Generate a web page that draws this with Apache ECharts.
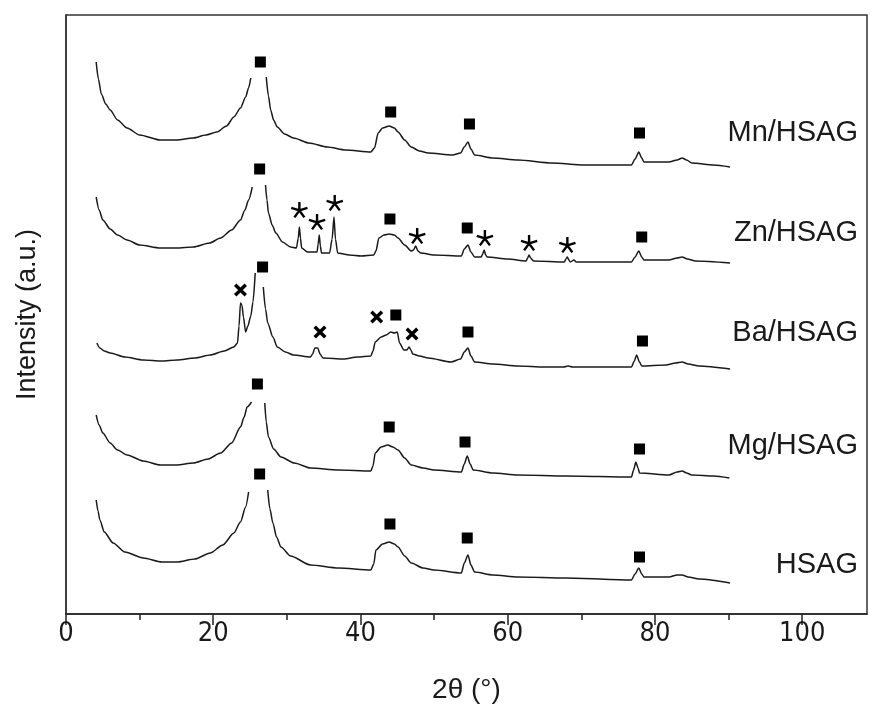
<!DOCTYPE html>
<html>
<head>
<meta charset="utf-8">
<script src="https://cdn.jsdelivr.net/npm/echarts@6/dist/echarts.min.js"></script>
<style>
html,body{margin:0;padding:0;background:#fff;}
#chart{width:870px;height:708px;}
</style>
</head>
<body>
<div id="chart"></div>
<script>
// ---- data (2θ in degrees, intensity in a.u. including vertical stacking offset) ----
const xTicks = [0, 20, 40, 60, 80, 100];
const xMinorTicks = [10, 30, 50, 70, 90];
const sampleNames = ['Mn/HSAG', 'Zn/HSAG', 'Ba/HSAG', 'Mg/HSAG', 'HSAG'];

const mnHsag = [
[4.1,552],[4.4,535],[4.8,520],[5.4,510],[6.0,504],[7.0,494],[8.3,486],[10,479],[12.8,474],[15,474],[17.3,476],[19,479],[20.5,482],[21.8,488],[22.8,497],[23.7,506],[24.4,517],[24.8,526],[25.1,536],[26.2,'-'],[27.2,537],[27.5,518],[27.8,504],[28.2,494],[28.7,487],[29.7,480],[30.9,476],[33,471],[35.5,467],[38,464],[41.4,462],[41.9,466],[42.4,481],[43.0,486],[43.9,488],[44.6,486],[45.1,482],[46,474],[46.9,467],[48,463],[49.2,461],[52.5,459],[53.6,461],[54.1,467],[54.6,472],[55.0,465],[55.5,459],[58,456],[61.4,454],[66,451],[70.4,449],[76.8,449],[77.3,455],[77.8,462],[78.2,456],[78.5,452],[81.9,452],[83,454],[83.7,456],[84.3,454],[85.0,451],[88,449],[90.2,447]
];
const znHsag = [
[4.1,417],[4.5,404],[5.0,394],[6,385],[7,379],[8.3,374],[10,369],[12.8,366],[15,366],[17.3,367],[19.5,371],[21,376],[22.5,384],[23.7,394],[24.3,404],[24.8,414],[25.3,427],[26.2,'-'],[27.1,429],[27.3,414],[27.5,401],[28,389],[28.5,381],[29.4,372],[30.5,367],[31.3,366],[31.55,376],[31.7,387],[31.85,376],[32.0,366],[32.8,362],[34.1,362],[34.25,370],[34.4,379],[34.55,368],[34.7,361],[35.8,361],[36.15,375],[36.4,397],[36.6,375],[36.9,361],[38.5,359],[40.1,358],[41.8,359],[42.1,363],[42.5,376],[43.2,379],[43.9,380],[44.6,379],[45.1,376],[46,369],[46.9,363],[47.2,364],[47.5,368],[47.8,363],[48.2,361],[50,359],[53.7,358],[54.1,365],[54.6,369],[55.0,362],[55.5,357],[56.4,357],[56.6,360],[56.8,364],[57.0,359],[57.2,357],[60,355],[62.5,353],[62.7,356],[62.9,359],[63.1,356],[63.5,353],[67.7,352],[67.9,355],[68.1,357],[68.3,354],[68.5,352],[69.0,354],[69.3,352],[72,352],[76.8,352],[77.3,357],[77.8,363],[78.2,357],[78.5,354],[81.9,354],[83,356],[83.7,357],[84.4,355],[85.5,353],[90.2,351]
];
const baHsag = [
[4.2,271],[4.6,266],[5.2,263],[6.0,261],[8,257],[10.5,254],[13,253],[15.1,254],[17.5,256],[19.6,259],[21.5,263],[22.8,267],[23.3,271],[23.5,288],[23.7,311],[23.9,309],[24.1,297],[24.4,282],[24.7,288],[25.1,298],[25.4,312],[25.7,341],[26.25,'-'],[26.8,327],[27.1,305],[27.4,291],[28.1,277],[28.7,267],[29.8,262],[30.9,259],[33.2,257],[33.5,260],[33.8,266],[34.2,266],[34.5,260],[34.9,256],[37.7,255],[39.6,257],[41.4,258],[41.7,263],[42.0,272],[42.8,277],[43.5,279],[44.1,282],[44.6,281],[45.0,282],[45.3,271],[45.9,264],[46.3,264],[46.6,267],[46.85,264],[47.1,260],[48,258],[49.2,256],[52.3,252],[53.6,255],[54.1,262],[54.6,266],[55.0,258],[55.5,252],[58,250],[61.4,248],[65,247],[67.6,247],[68.2,248],[68.8,247],[72,247],[76.8,247],[77.2,253],[77.5,259],[77.9,252],[78.2,248],[81.5,249],[82.8,251],[83.7,252],[84.5,250],[86,248],[90.2,245]
];
const mgHsag = [
[4.1,199],[4.5,189],[5.0,181],[6,171],[7,164],[8.3,159],[10.5,153],[12.8,149],[15,149],[17.3,151],[19.3,155],[21.0,161],[22.5,171],[23.7,187],[24.2,197],[24.6,207],[25.2,212],[26.1,'-'],[27.0,211],[27.2,192],[27.5,177],[28.2,165],[29.2,157],[31,151],[33.2,146],[37,144],[41.4,143],[41.7,148],[42.0,161],[42.8,167],[43.7,169],[44.4,167],[45.1,164],[46,156],[46.9,149],[48.5,146],[50,144],[53.7,142],[54.1,150],[54.5,158],[54.9,150],[55.3,144],[58,141],[61.4,139],[68,138],[76.8,137],[77.1,144],[77.4,152],[77.7,146],[77.9,141],[81.9,139],[83,142],[83.7,143],[84.3,141],[85.0,139],[88,138],[90.1,136]
];
const hsag = [
[4.1,114],[4.35,103],[4.6,94],[5.2,82],[6.4,71],[8,62],[10.5,56],[13,52],[15.1,52],[17.5,55],[19.6,61],[21.3,69],[22.8,81],[23.7,92],[24.4,107],[24.8,122],[26.1,'-'],[27.4,124],[27.7,105],[28.1,91],[28.6,77],[29.2,67],[30.5,58],[33.2,49],[37,46],[41.4,44],[41.8,50],[42.1,64],[43.0,70],[43.9,72],[44.6,70],[45.1,67],[46,58],[46.9,51],[48.5,46],[50,44],[53.7,41],[54.1,51],[54.6,59],[55.0,49],[55.5,42],[58,39],[61.4,37],[68,36],[76.8,34],[77.3,40],[77.8,46],[78.2,40],[78.5,37],[81.9,37],[83,39],[83.7,39],[84.5,37],[86,35],[90.2,31]
];

// phase markers: ■ graphite, * ZnO, × BaCO3
const graphiteMarks = [
[26.4,552],[44.1,502],[54.8,490],[77.9,481],
[26.3,445],[44.0,395],[54.5,386],[78.2,377],
[26.7,347],[44.8,299],[54.6,282],[78.3,273],
[26.0,230],[43.9,187],[54.2,172],[77.9,165],
[26.3,140],[44.0,90],[54.5,76],[77.9,57]
];
const znoMarks = [[31.7,404],[34.1,392],[36.5,411],[47.7,378],[56.9,376],[62.9,371],[68.1,369]];
const bacoMarks = [[23.7,324],[34.5,282],[42.2,297],[47.0,280]];

// ---- chart ----
const curves = [mnHsag, znHsag, baHsag, mgHsag, hsag];
const lineColor = '#1a1a1a';
const starPath = 'path://M57,50 L57,0 L43,0 L43,50 Z M52.2,56.7 L99.8,41.2 L95.4,27.9 L47.8,43.3 Z M44.3,54.1 L73.7,94.6 L85.1,86.3 L55.7,45.9 Z M44.3,45.9 L14.9,86.3 L26.3,94.6 L55.7,54.1 Z M52.2,43.3 L4.6,27.9 L0.2,41.2 L47.8,56.7 Z';
const crossPath = 'path://M0,2.6 L2.6,0 L7,4.4 L11.4,0 L14,2.6 L9.6,7 L14,11.4 L11.4,14 L7,9.6 L2.6,14 L0,11.4 L4.4,7 Z';

const series = curves.map((d, i) => ({
  name: sampleNames[i],
  type: 'line',
  data: d,
  showSymbol: false,
  smooth: 0.25,
  smoothMonotone: 'x',
  connectNulls: false,
  lineStyle: {color: lineColor, width: 1.5},
  silent: true
}));
series.push({
  type: 'scatter', data: graphiteMarks, symbol: 'rect', symbolSize: 11,
  itemStyle: {color: '#000', opacity: 1}, silent: true, z: 5
});
series.push({
  type: 'scatter', data: znoMarks, symbol: starPath, symbolSize: 17, symbolKeepAspect: true,
  itemStyle: {color: '#000', opacity: 1}, silent: true, z: 5
});
series.push({
  type: 'scatter', data: bacoMarks, symbol: crossPath, symbolSize: 13, symbolKeepAspect: true,
  itemStyle: {color: '#000', opacity: 1}, silent: true, z: 5
});

const labelFont = '"Liberation Sans", Arial, sans-serif';
const labelY = [135, 235, 335, 448, 567];
const graphics = sampleNames.map((n, i) => ({
  type: 'text', right: 12, top: labelY[i] - 17,
  style: {text: n, fill: '#1a1a1a', font: '29px ' + labelFont}
}));

const X_MAX = 108.8;
const chart = echarts.init(document.getElementById('chart'), null, {renderer: 'canvas'});
chart.setOption({
  animation: false,
  backgroundColor: '#fff',
  grid: {left: 66, right: 3, top: 15, bottom: 94, containLabel: false, outerBoundsMode: 'none',
         show: true, borderColor: '#333', borderWidth: 1.5, backgroundColor: 'transparent'},
  xAxis: [{
    type: 'value', min: 0, max: X_MAX, interval: 20,
    name: '2θ (°)', nameLocation: 'middle', nameGap: 62,
    nameTextStyle: {fontFamily: labelFont, fontSize: 28, color: '#1a1a1a'},
    axisLine: {show: true, lineStyle: {color: '#222', width: 1.5}},
    axisTick: {show: true, length: 11, customValues: xTicks, lineStyle: {color: '#222', width: 1.5}},
    splitLine: {show: false},
    axisLabel: {
      margin: 6, color: '#1a1a1a', fontSize: 27, customValues: xTicks,
      fontFamily: '"Liberation Sans Narrow", "Arial Narrow", "DejaVu Sans Condensed", sans-serif',
      formatter: v => (xTicks.indexOf(v) >= 0 ? String(v) : '')
    }
  }, {
    type: 'value', min: 0, max: X_MAX, position: 'bottom',
    axisLine: {show: false},
    axisTick: {show: true, length: 6, customValues: xMinorTicks, lineStyle: {color: '#222', width: 1.5}},
    axisLabel: {show: false},
    splitLine: {show: false}
  }],
  yAxis: {
    type: 'value', min: 0, max: 599,
    name: 'Intensity (a.u.)', nameLocation: 'middle', nameGap: 25,
    nameTextStyle: {fontFamily: labelFont, fontSize: 27, color: '#1a1a1a'},
    axisLine: {show: true, lineStyle: {color: '#333', width: 1.5}},
    axisTick: {show: false},
    axisLabel: {show: false},
    splitLine: {show: false}
  },
  graphic: graphics,
  series: series
});
</script>
</body>
</html>
